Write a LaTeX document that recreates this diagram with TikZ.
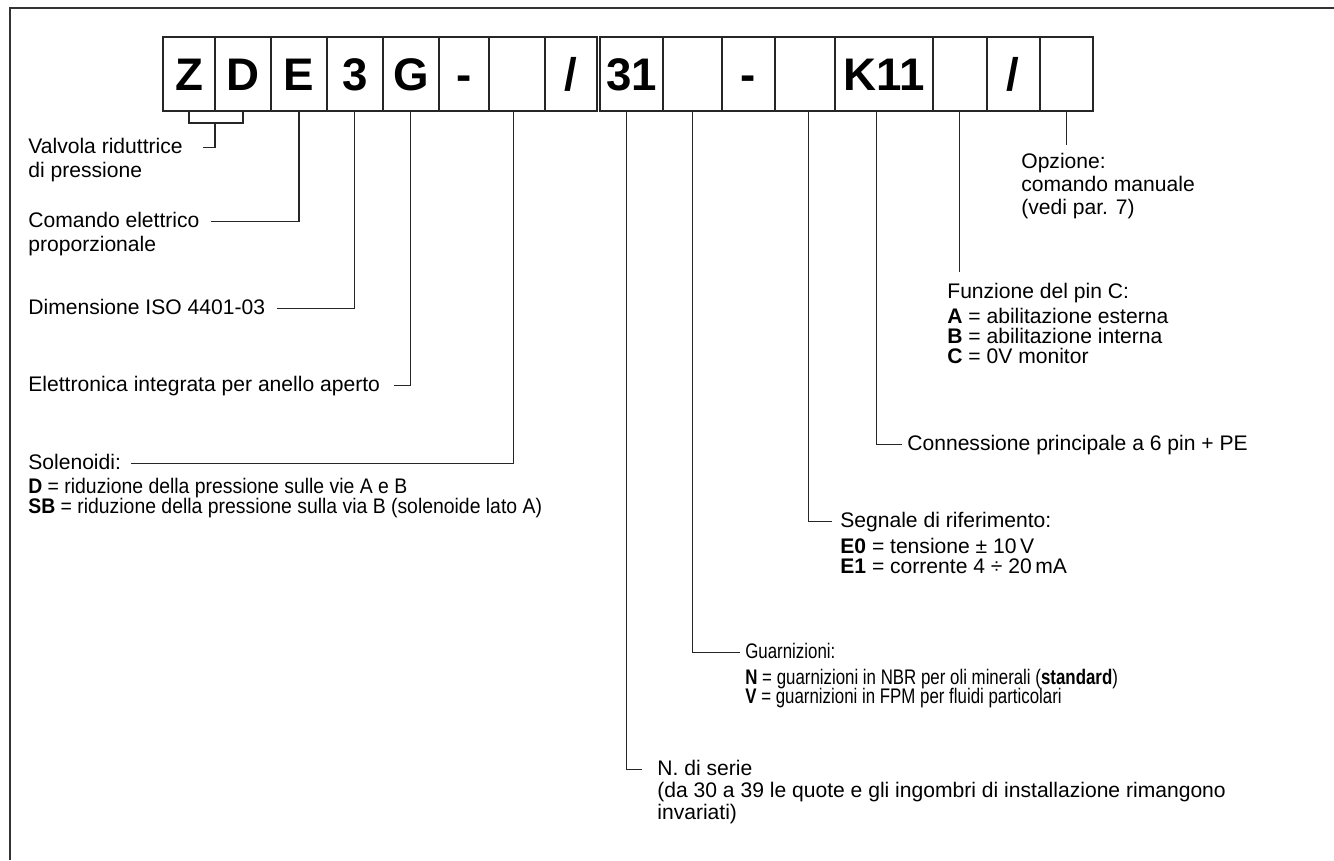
\documentclass[tikz,border=0pt]{standalone}
\usepackage{fontspec}
\setmainfont{Liberation Sans}
\newfontfamily\narrowfont[FakeStretch=0.8]{Liberation Sans}
\newfontfamily\semifont[FakeStretch=0.92]{Liberation Sans}
\usetikzlibrary{positioning}

\tikzset{
  cell/.style={draw=black!85, line width=0.8pt, minimum height=1.48cm, inner sep=0pt, outer sep=0pt,
    anchor=north west, text height=18.6pt, text depth=0pt, font=\fontsize{26}{30}\selectfont\bfseries},
  lbl/.style={anchor=base west, inner sep=0pt, text height=9pt, text depth=3pt, font=\fontsize{12}{14}\selectfont},
  slbl/.style={lbl, font=\fontsize{12}{14}\selectfont\semifont},
  nlbl/.style={lbl, font=\fontsize{12}{14}\selectfont\narrowfont},
  lead/.style={draw=black!85, line width=0.6pt},
  frame/.style={draw=black!80, line width=0.8pt},
}

\begin{document}
\begin{tikzpicture}[x=0.02cm, y=-0.02cm]

% Frame
\useasboundingbox (0,0) rectangle (1334,860);
\draw[frame] (1334,8) -- (10,8) -- (10,860);

% Code cells
\node[cell, minimum width=1.04cm] (zz) at (163,37) {Z};
\node[cell, minimum width=1.12cm, right=0pt of zz] (dd) {D};
\node[cell, minimum width=1.12cm, right=0pt of dd] (ee) {E};
\node[cell, minimum width=1.12cm, right=0pt of ee] (dim) {3};
\node[cell, minimum width=1.12cm, right=0pt of dim] (gg) {G};
\node[cell, minimum width=1.00cm, right=0pt of gg] (dash1) {-};
\node[cell, minimum width=1.12cm, right=0pt of dash1] (sol) {};
\node[cell, minimum width=1.04cm, right=0pt of sol] (sl1) {/};
\node[cell, minimum width=1.26cm, right=0.06cm of sl1] (ser) {31};
\node[cell, minimum width=1.18cm, right=0pt of ser] (seal) {};
\node[cell, minimum width=1.06cm, right=0pt of seal] (dash2) {-};
\node[cell, minimum width=1.20cm, right=0pt of dash2] (sig) {};
\node[cell, minimum width=1.96cm, right=0pt of sig] (conn) {K11};
\node[cell, minimum width=1.08cm, right=0pt of conn] (pin) {};
\node[cell, minimum width=1.06cm, right=0pt of pin] (sl2) {/};
\node[cell, minimum width=1.06cm, right=0pt of sl2] (opt) {};

% Left side labels
\node[lbl] (valvola) at (28,153) {Valvola riduttrice};
\node[lbl] (valvola2) at (28,177) {di pressione};
\node[lbl] (comando) at (28,227) {Comando elettrico};
\node[lbl] (comando2) at (28,251) {proporzionale};
\node[lbl] (dimens) at (28,314) {Dimensione ISO 4401-03};
\node[lbl] (elettr) at (28,391) {Elettronica integrata per anello aperto};
\node[lbl] (solen) at (28,469) {Solenoidi:};
\node[slbl] (solD) at (28,493) {\textbf{D} = riduzione della pressione sulle vie A e B};
\node[slbl] (solSB) at (28,513) {\textbf{SB} = riduzione della pressione sulla via B (solenoide lato A)};

% Right side labels
\node[lbl] (opz) at (1021,168) {Opzione:};
\node[lbl] (opz2) at (1021,191) {comando manuale};
\node[lbl] (opz3) at (1021,214) {(vedi par. 7)};
\node[lbl] (funz) at (947,298) {Funzione del pin C:};
\node[lbl] (funzA) at (947,323) {\textbf{A} = abilitazione esterna};
\node[lbl] (funzB) at (947,343) {\textbf{B} = abilitazione interna};
\node[lbl] (funzC) at (947,363) {\textbf{C} = 0V monitor};
\node[lbl] (connlbl) at (907,450) {Connessione principale a 6 pin + PE};
\node[lbl] (segn) at (840,527) {Segnale di riferimento:};
\node[lbl] (segE0) at (840,553) {\textbf{E0} = tensione ± 10\,V};
\node[lbl] (segE1) at (840,573) {\textbf{E1} = corrente 4 ÷ 20\,mA};
\node[nlbl] (guarn) at (745,658) {Guarnizioni:};
\node[nlbl] (guarnN) at (745,684) {\textbf{N} = guarnizioni in NBR per oli minerali (\textbf{standard})};
\node[nlbl] (guarnV) at (745,703) {\textbf{V} = guarnizioni in FPM per fluidi particolari};
\node[lbl] (serie) at (657,775) {N. di serie};
\node[lbl] (serie2) at (657,797) {(da 30 a 39 le quote e gli ingombri di installazione rimangono};
\node[lbl] (serie3) at (657,819) {invariati)};

% Leaders
\coordinate (zdmid) at ([yshift=-0.24cm]zz.south east);
\draw[lead] (zz.south) -- ++(0,12) -| (dd.south);
\draw[lead, shorten >=0.4cm] (zdmid) |- (valvola.east);
\draw[lead, shorten >=0.22cm] (ee.south) |- (comando.east);
\draw[lead, shorten >=0.24cm] (dim.south) |- (dimens.east);
\draw[lead, shorten >=0.28cm] (gg.south) |- (elettr.east);
\draw[lead, shorten >=0.2cm] ([xshift=-0.06cm]sol.south) |- (solen.east);
\draw[lead, shorten >=0.14cm] (opt.south) -- (opt.south |- opz.north);
\draw[lead, shorten >=0.2cm] (pin.south) -- (pin.south |- funz.north);
\draw[lead, shorten >=0.1cm] ([xshift=-0.14cm]conn.south) |- (connlbl.west);
\draw[lead, shorten >=0.16cm] ([xshift=0.08cm]sig.south) |- (segn.west);
\draw[lead, shorten >=0.1cm] (seal.south) |- (guarn.west);
\draw[lead, shorten >=0.3cm] ([xshift=-0.1cm]ser.south) |- (serie.west);

\end{tikzpicture}
\end{document}
